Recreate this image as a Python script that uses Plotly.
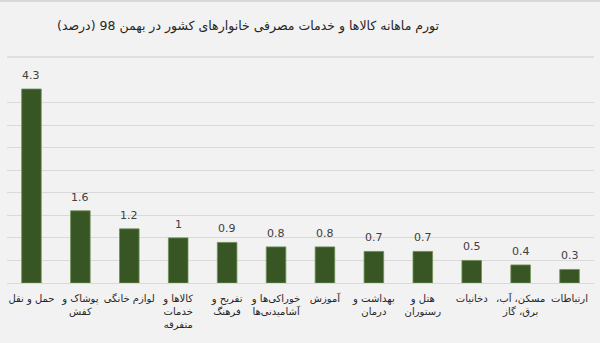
import plotly.graph_objects as go

# Monthly inflation of household consumer goods and services, Bahman 98 (percent)
RLM = "\u200f"
categories = [
    "حمل و نقل",
    "پوشاک و<br>کفش",
    "لوازم خانگی",
    "کالاها و<br>خدمات<br>متفرقه",
    "تفریح و<br>فرهنگ",
    "خوراکی‌ها و<br>آشامیدنی‌ها",
    "آموزش",
    "بهداشت و<br>درمان",
    "هتل و<br>رستوران",
    "دخانیات",
    "مسکن، آب،" + RLM + "<br>برق، گاز",
    "ارتباطات",
]
values = [4.3, 1.6, 1.2, 1, 0.9, 0.8, 0.8, 0.7, 0.7, 0.5, 0.4, 0.3]
value_labels = ["4.3", "1.6", "1.2", "1", "0.9", "0.8", "0.8", "0.7", "0.7", "0.5", "0.4", "0.3"]

title_text = "تورم ماهانه کالاها و خدمات مصرفی خانوارهای کشور در بهمن 98 (درصد)"

BG = "#f2f2f2"
GRID = "#d9d9d9"
BAR = "#375623"
TEXT = "#404040"
FONT = "DejaVu Sans, sans-serif"

W, H = 600, 343
MB = 60                      # room for the category labels
PAPER_H = H - MB             # paper spans from the top edge down to the labels
PLOT_L, PLOT_R = 7, 594      # horizontal extent of the plotting area (px)
PLOT_TOP = 80                # top of the plotting area (px)


def px_x(px):
    return px / W


def px_y(py):
    return (PAPER_H - py) / PAPER_H


fig = go.Figure()
fig.add_trace(go.Bar(
    x=categories,
    y=values,
    marker=dict(color=BAR, line=dict(color="#6f8f55", width=0.8)),
    hoverinfo="skip",
))

# value labels above each bar
for cat, v, lab in zip(categories, values, value_labels):
    fig.add_annotation(
        x=cat, y=v, text=lab, showarrow=False,
        xref="x", yref="y", yanchor="bottom", yshift=5,
        font=dict(family=FONT, size=11, color=TEXT),
    )

fig.add_annotation(
    x=px_x(248), y=px_y(26), xref="paper", yref="paper",
    xanchor="center", yanchor="middle",
    text=title_text, showarrow=False,
    font=dict(family=FONT, size=12.5, color="#262626"),
)

fig.update_layout(
    width=W, height=H,
    paper_bgcolor=BG, plot_bgcolor=BG,
    margin=dict(l=0, r=0, t=0, b=MB, pad=0),
    bargap=0.6,
    showlegend=False,
    shapes=[
        # separator under the title
        dict(type="line", xref="paper", yref="paper",
             x0=px_x(PLOT_L), x1=px_x(PLOT_R), y0=px_y(57), y1=px_y(57),
             line=dict(color=GRID, width=1.5)),
        # thin frame line along the top edge
        dict(type="line", xref="paper", yref="paper",
             x0=0, x1=1, y0=px_y(1), y1=px_y(1),
             line=dict(color=GRID, width=2)),
    ],
    xaxis=dict(
        domain=[px_x(PLOT_L), px_x(PLOT_R)],
        showgrid=False, showline=False, ticks="",
        tickfont=dict(family=FONT, size=10, color="#262626"),
        tickangle=0, ticklabelstandoff=8, fixedrange=True,
    ),
    yaxis=dict(
        domain=[0, px_y(PLOT_TOP)],
        range=[0, 4.5], dtick=0.5, showticklabels=False,
        showgrid=True, gridcolor=GRID, gridwidth=1,
        zeroline=True, zerolinecolor=GRID, zerolinewidth=1,
        fixedrange=True,
    ),
)

fig.write_html("out.html")
